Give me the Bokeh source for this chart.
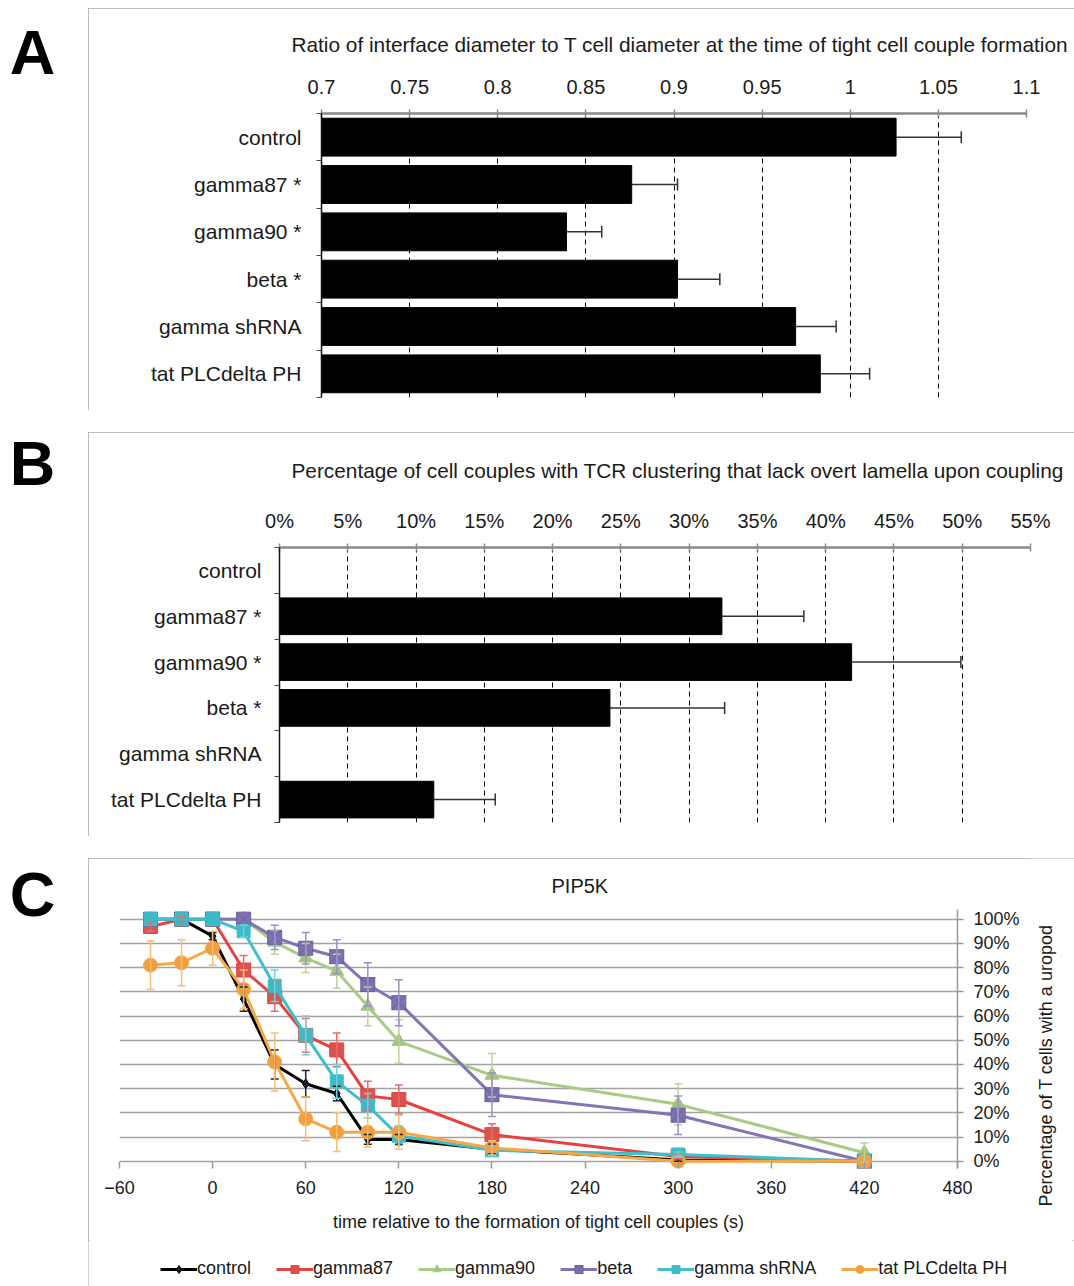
import math
from bokeh.plotting import figure
from bokeh.models import (ColumnDataSource, Range1d, FixedTicker, Whisker, TeeHead, Label,
                          Legend, LegendItem, PrintfTickFormatter, Title, Spacer)
from bokeh.layouts import column, row
from bokeh.embed import file_html
from bokeh.resources import INLINE

FONT = "Liberation Sans"
TXT = "#1a1a1a"

# ---------------- data ----------------
categories = ["control", "gamma87 *", "gamma90 *", "beta *", "gamma shRNA", "tat PLCdelta PH"]

ratio_values = [1.026, 0.876, 0.839, 0.902, 0.969, 0.983]
ratio_errors = [0.037, 0.026, 0.020, 0.024, 0.023, 0.028]
ratio_ticks = [0.7, 0.75, 0.8, 0.85, 0.9, 0.95, 1.0, 1.05, 1.1]
ratio_tick_labels = ["0.7", "0.75", "0.8", "0.85", "0.9", "0.95", "1", "1.05", "1.1"]
ratio_title = "Ratio of interface diameter to T cell diameter at the time of tight cell couple formation"

lamella_values = [0.0, 32.4, 41.9, 24.2, 0.0, 11.3]
lamella_errors = [0.0, 6.0, 8.0, 8.4, 0.0, 4.5]
lamella_ticks = [0, 5, 10, 15, 20, 25, 30, 35, 40, 45, 50, 55]
lamella_tick_labels = ["0%", "5%", "10%", "15%", "20%", "25%", "30%", "35%", "40%", "45%", "50%", "55%"]
lamella_title = "Percentage of cell couples with TCR clustering that lack overt lamella upon coupling"

time_s = [-40, -20, 0, 20, 40, 60, 80, 100, 120, 180, 300, 420]
time_ticks = [-60, 0, 60, 120, 180, 240, 300, 360, 420, 480]
pct_ticks = [0, 10, 20, 30, 40, 50, 60, 70, 80, 90, 100]
uropod_title = "Percentage of T cells with a uropod"

series_names = ["control", "gamma87", "gamma90", "beta", "gamma shRNA", "tat PLCdelta PH"]
control = [100, 100, 93, 67, 40, 32, 28, 9, 9, 5, 0.5, 0]
control_err = [0, 0, 1.5, 5, 6, 5.5, 3, 2, 2, 2, 0.5, 0]
gamma87 = [97, 100, 100, 79, 68, 52, 46, 27, 25.5, 11, 2, 0]
gamma87_err = [2, 1, 0, 6, 6, 7, 7, 6, 6, 4.5, 1, 0]
gamma90 = [100, 100, 100, 100, 90.5, 84, 78.5, 64, 49.5, 35.5, 23.5, 3.5]
gamma90_err = [0, 0, 0, 0, 5, 6, 7, 8, 9, 9, 8.5, 4]
beta = [100, 100, 100, 100, 92.5, 88, 84.5, 73, 65.5, 27.5, 19, 0]
beta_err = [0, 0, 0, 0, 5, 6.5, 7, 9, 9.5, 9, 8, 0]
gamma_shrna = [100, 100, 100, 95, 72.5, 52, 33, 23, 10.5, 4.5, 2.8, 0]
gamma_shrna_err = [0, 0, 0, 2.5, 6.5, 8, 7, 5, 4, 2, 1, 0]
tat_plc = [81, 82, 88, 71, 41, 17.5, 12, 12, 12, 5.5, 0, 0]
tat_plc_err = [10, 9.5, 7, 8, 12, 9, 8, 6, 7, 3, 0, 0]

series_values = [control, gamma87, gamma90, beta, gamma_shrna, tat_plc]
series_errors = [control_err, gamma87_err, gamma90_err, beta_err, gamma_shrna_err, tat_plc_err]
line_colors = ["#000000", "#E8413F", "#A8CB86", "#8075B6", "#3EC0CC", "#F6A844"]
marker_fill = ["#10203a", "#D9534F", "#A3C47E", "#7F72B0", "#3BBBC8", "#F0A040"]
marker_line = ["#000000", "#E8413F", "#A8CB86", "#6a5fa0", "#3EC0CC", "#F6A844"]
err_colors = ["#222222", "#E86A68", "#B7D49B", "#9A90C6", "#6FD0D8", "#F8BE74"]
markers = ["diamond", "square", "triangle", "square_x", "square", "circle"]
marker_sizes = [10, 14, 14, 14, 13, 14]

panel_letters = ["A", "B", "C"]

BOX_STYLE = {"outline": "2px solid #a8a8a8", "outline-offset": "-2px"}
CHART_W = 986
LETTER_W = 88
PAGE_H = 1278
C_PLOT_W = 942
C_PLOT_H = 382


def bare_fig(width, height, xr=(0, 1), yr=(0, 1)):
    p = figure(width=width, height=height, x_range=Range1d(*xr), y_range=Range1d(*yr),
               x_axis_location=None, y_axis_location=None, output_backend="svg",
               toolbar_location=None, min_border_left=0, min_border_right=0,
               min_border_top=0, min_border_bottom=0)
    p.outline_line_color = None
    p.xgrid.visible = False
    p.ygrid.visible = False
    p.frame_align = False
    return p


def style_text_axis(ax, size):
    ax.major_label_text_font = FONT
    ax.major_label_text_font_size = size
    ax.major_label_text_color = TXT
    ax.axis_label_text_font = FONT
    ax.axis_label_text_font_style = "normal"
    ax.axis_label_text_color = TXT


def bar_panel(values, errors, ticks, tick_labels, title, xr, height, borders,
              label_standoff, title_standoff, title_offset, cat_standoff):
    n = len(categories)
    p = figure(width=CHART_W, height=height, x_range=Range1d(*xr), y_range=Range1d(n, 0),
               x_axis_location="above", output_backend="svg", toolbar_location=None,
               min_border_left=borders[0], min_border_right=borders[1],
               min_border_top=borders[2], min_border_bottom=borders[3])
    p.frame_align = False
    p.styles = BOX_STYLE
    p.outline_line_color = None
    pos = [i + 0.5 for i in range(n)]
    src = ColumnDataSource(dict(pos=pos, val=values, base=[xr[0]] * n))
    p.hbar(y="pos", left="base", right="val", height=0.8, source=src,
           fill_color="black", line_color="black")
    nz = [i for i in range(n) if errors[i] > 0]
    esrc = ColumnDataSource(dict(pos=[pos[i] for i in nz], lo=[values[i] for i in nz],
                                 hi=[values[i] + errors[i] for i in nz]))
    p.add_layout(Whisker(source=esrc, base="pos", lower="lo", upper="hi", dimension="width",
                         line_color="#333333", line_width=1.5, lower_head=None,
                         upper_head=TeeHead(size=12, line_color="#333333", line_width=1.5)))
    # top axis
    xa = p.xaxis[0]
    xa.ticker = FixedTicker(ticks=ticks)
    xa.major_label_overrides = {t: l for t, l in zip(ticks, tick_labels)}
    xa.axis_line_color = "#8a8a8a"
    xa.axis_line_width = 2.5
    xa.major_tick_line_color = "#8a8a8a"
    xa.major_tick_line_width = 1.5
    xa.major_tick_in = 4
    xa.major_tick_out = 4
    xa.minor_tick_line_color = None
    xa.major_label_standoff = label_standoff
    style_text_axis(xa, "20px")
    p.add_layout(Title(text=title, align="left", offset=title_offset, standoff=title_standoff,
                       text_font=FONT, text_font_size="20.8px", text_font_style="normal",
                       text_color=TXT), "above")
    # left axis
    ya = p.yaxis[0]
    ya.ticker = FixedTicker(ticks=pos, minor_ticks=list(range(n + 1)))
    ya.major_label_overrides = {v: c for v, c in zip(pos, categories)}
    ya.axis_line_color = "#111111"
    ya.axis_line_width = 1.5
    ya.major_tick_in = 0
    ya.major_tick_out = 0
    ya.minor_tick_in = 0
    ya.minor_tick_out = 5
    ya.minor_tick_line_color = "#444444"
    ya.major_label_standoff = cat_standoff
    style_text_axis(ya, "21px")
    # grid
    p.xgrid.ticker = FixedTicker(ticks=ticks[1:])
    p.xgrid.grid_line_color = "black"
    p.xgrid.grid_line_dash = "5 4"
    p.xgrid.grid_line_width = 1
    p.ygrid.visible = False
    return p


pA = bar_panel(ratio_values, ratio_errors, ratio_ticks, ratio_tick_labels, ratio_title,
               (0.7, 1.1), 402, (233, 48, 105, 13), 16, 41, -30, 15)
pB = bar_panel(lamella_values, lamella_errors, lamella_ticks, lamella_tick_labels, lamella_title,
               (0, 55), 404, (191, 44, 115, 14), 12, 49, 12, 13)

# ---------------- panel C ----------------
pC = figure(width=C_PLOT_W, height=C_PLOT_H, x_range=Range1d(-60, 480), y_range=Range1d(-3, 104),
            y_axis_location="right", output_backend="svg", toolbar_location=None,
            min_border_left=31, min_border_right=73, min_border_top=51, min_border_bottom=72)
pC.frame_align = False
pC.outline_line_color = None
pC.ygrid.ticker = FixedTicker(ticks=pct_ticks)
pC.ygrid.grid_line_color = "#a3a3a3"
pC.ygrid.grid_line_width = 1.5
pC.xgrid.visible = False

# legend strip: its ranges lie far from the data, so only the legend swatches show
pL = bare_fig(CHART_W, 46, xr=(-100000, -99999), yr=(-100000, -99999))
legend_items = []
for name, vals, errs, lc, mf, ml, ec, mk, ms in zip(series_names, series_values, series_errors,
                                                   line_colors, marker_fill, marker_line,
                                                   err_colors, markers, marker_sizes):
    nz = [i for i in range(len(time_s)) if errs[i] > 0]
    esrc = ColumnDataSource(dict(t=[time_s[i] for i in nz],
                                 lo=[vals[i] - errs[i] for i in nz],
                                 hi=[vals[i] + errs[i] for i in nz]))
    pC.add_layout(Whisker(source=esrc, base="t", lower="lo", upper="hi", dimension="height",
                          line_color=ec, line_width=1.5, level="glyph",
                          upper_head=TeeHead(size=8, line_color=ec, line_width=1.5),
                          lower_head=TeeHead(size=8, line_color=ec, line_width=1.5)))
    src = ColumnDataSource(dict(t=time_s, v=vals))
    pC.line("t", "v", source=src, line_color=lc, line_width=3)
    pC.scatter("t", "v", source=src, marker=mk, size=ms, fill_color=mf,
               line_color=ml, line_width=1)
    lr = pL.line("t", "v", source=src, line_color=lc, line_width=3)
    sr = pL.scatter("t", "v", source=src, marker=mk, size=ms, fill_color=mf,
                    line_color=ml, line_width=1)
    legend_items.append(LegendItem(label=name, renderers=[lr, sr]))

xa = pC.xaxis[0]
xa.ticker = FixedTicker(ticks=time_ticks)
xa.axis_line_color = None
xa.major_tick_in = 7
xa.major_tick_out = 0
xa.major_tick_line_color = "#9a9a9a"
xa.major_tick_line_width = 1.5
xa.minor_tick_line_color = None
xa.major_label_standoff = 12
xa.axis_label = "time relative to the formation of tight cell couples (s)"
xa.axis_label_standoff = 15
style_text_axis(xa, "18px")
xa.axis_label_text_font_size = "18px"

ya = pC.yaxis[0]
ya.ticker = FixedTicker(ticks=pct_ticks)
ya.formatter = PrintfTickFormatter(format="%d%%")
ya.axis_line_color = "#9a9a9a"
ya.axis_line_width = 1.5
ya.major_tick_in = 0
ya.major_tick_out = 6
ya.major_tick_line_color = "#9a9a9a"
ya.major_tick_line_width = 1.5
ya.minor_tick_line_color = None
ya.major_label_standoff = 10
style_text_axis(ya, "18px")

pC.add_layout(Title(text="PIP5K", align="left", offset=432, standoff=25,
                    text_font=FONT, text_font_size="20px", text_font_style="normal",
                    text_color=TXT), "above")

# strip to the right of panel C carrying the rotated y-axis title (reads bottom to top)
pT = bare_fig(CHART_W - C_PLOT_W, C_PLOT_H)
pT.add_layout(Label(x=15, y=175, x_units="screen", y_units="screen", text=uropod_title,
                    angle=math.pi / 2, text_font=FONT, text_font_size="18px", text_color=TXT,
                    text_align="center", text_baseline="middle"))

legend = Legend(items=legend_items, orientation="horizontal", location=(72, 7),
                label_text_font=FONT, label_text_font_size="18px", label_text_color=TXT,
                glyph_width=37, glyph_height=20, label_standoff=0, spacing=25,
                padding=4, margin=0, border_line_color=None, background_fill_alpha=0)
pL.add_layout(legend)

colC = column(row(pC, pT, spacing=0), pL, spacing=0, styles=BOX_STYLE)

# one tall strip on the left carrying the panel letters
pLetters = bare_fig(LETTER_W, PAGE_H)
for letter, y_from_bottom in zip(panel_letters, [1235, 824, 393]):
    pLetters.add_layout(Label(x=32, y=y_from_bottom, x_units="screen", y_units="screen",
                              text=letter, text_font=FONT, text_font_size="63px",
                              text_font_style="bold", text_align="center",
                              text_baseline="middle", text_color="black"))

panels = column(pA, pB, colC, spacing=22)
layout = column(Spacer(width=1074, height=8), row(pLetters, panels, spacing=0), spacing=0)
open("out.html", "w").write(file_html(layout, INLINE))
